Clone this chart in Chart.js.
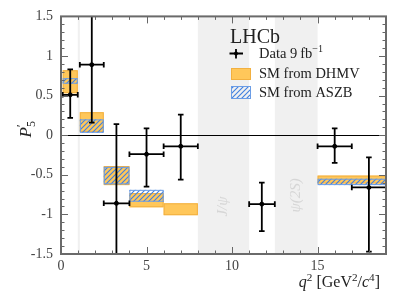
<!DOCTYPE html>
<html>
<head>
<meta charset="utf-8">
<script src="https://cdn.jsdelivr.net/npm/chart.js@4.4.0/dist/chart.umd.min.js"></script>
<style>
  html, body { margin: 0; padding: 0; background: #fff; }
</style>
</head>
<body>
<canvas id="c" width="407" height="305"></canvas>
<script>
// measured P5' per q2 bin (9 fb-1)
const binLo = [0.1, 1.1, 2.5, 4.0, 6.0, 11.0, 15.0, 17.0]
const binHi = [0.98, 2.5, 4.0, 6.0, 8.0, 12.5, 17.0, 19.0]
const dataX = [0.54, 1.8, 3.24, 5.0, 7.0, 11.74, 16.0, 18.0]
const dataY = [0.51, 0.89, -0.86, -0.24, -0.14, -0.87, -0.14, -0.66]
const dataHi = [0.83, 1.65, 0.14, 0.085, 0.26, -0.60, 0.085, -0.28]
const dataLo = [0.22, 0.16, -1.65, -0.65, -0.56, -1.21, -0.35, -1.47]

// SM predictions, DHMV
const dhmvLo = [0.1, 1.1, 2.5, 4.0, 6.0, 15.0]
const dhmvHi = [0.98, 2.5, 4.0, 6.0, 8.0, 19.0]
const dhmvMin = [0.53, 0.04, -0.63, -0.91, -1.01, -0.61]
const dhmvMax = [0.82, 0.29, -0.39, -0.73, -0.86, -0.51]

// SM predictions, ASZB
const aszbLo = [0.1, 1.1, 2.5, 4.0, 15.0]
const aszbHi = [0.98, 2.5, 4.0, 6.0, 19.0]
const aszbMin = [0.65, 0.03, -0.62, -0.84, -0.63]
const aszbMax = [0.72, 0.20, -0.40, -0.69, -0.55]

// vetoed charmonium regions
const vetoLo = [0.98, 8.0, 12.5]
const vetoHi = [1.1, 11.0, 15.0]

const xTicks = [0, 5, 10, 15]
const yTicks = [-1.5, -1, -0.5, 0, 0.5, 1, 1.5]

const serif = '"Liberation Serif", "DejaVu Serif", serif'
const textCol = '#222'

// hatch for the ASZB boxes
function makeHatch() {
    const pc = document.createElement('canvas')
    pc.width = 5; pc.height = 5
    const g = pc.getContext('2d')
    g.strokeStyle = '#3f7fe0'
    g.lineWidth = 1.1
    g.beginPath()
    g.moveTo(-1, 6); g.lineTo(6, -1)
    g.moveTo(-2, 2); g.lineTo(2, -2)
    g.moveTo(3, 7); g.lineTo(7, 3)
    g.stroke()
    return g.createPattern(pc, 'repeat')
}

// draws text made of pieces: {t, i (italic), sup, sub, back (start over previous piece)}
function richWidth(ctx, parts, size) {
    let w = 0
    parts.forEach(p => {
        const s = (p.sup || p.sub) ? size * 0.7 : size
        ctx.font = (p.i ? 'italic ' : '') + s + 'px ' + serif
        if (!p.back) w += ctx.measureText(p.t).width
    })
    return w
}
function drawRich(ctx, parts, x, y, size) {
    let cx = x, last = x
    parts.forEach(p => {
        const s = (p.sup || p.sub) ? size * 0.7 : size
        ctx.font = (p.i ? 'italic ' : '') + s + 'px ' + serif
        let dy = 0
        if (p.sup) dy = -size * 0.38
        if (p.sub) dy = size * 0.25
        const sx = p.back ? last : cx
        ctx.fillText(p.t, sx, y + dy)
        if (!p.back) { last = cx; cx += ctx.measureText(p.t).width }
    })
}

let hatch = null

const p5plugin = {
    id: 'p5plugin',
    beforeDatasetsDraw(chart) {
        const { ctx, chartArea: a, scales: { x, y } } = chart
        if (!hatch) hatch = makeHatch()
        ctx.save()
        ctx.beginPath()
        ctx.rect(a.left, a.top, a.right - a.left, a.bottom - a.top)
        ctx.clip()

        // veto bands
        ctx.fillStyle = '#f0f0f0'
        vetoLo.forEach((lo, i) => {
            const x0 = x.getPixelForValue(lo), x1 = x.getPixelForValue(vetoHi[i])
            ctx.fillRect(x0, a.top, x1 - x0, a.bottom - a.top)
        })
        ctx.fillStyle = '#d6d6d6'
        ctx.font = 'italic 15px ' + serif
        ctx.textAlign = 'center'
        ctx.textBaseline = 'middle'
        ;[['J/\u03C8', 9.5, -0.9], ['\u03C8(2S)', 13.75, -0.76]].forEach(l => {
            ctx.save()
            ctx.translate(x.getPixelForValue(l[1]), y.getPixelForValue(l[2]))
            ctx.rotate(-Math.PI / 2)
            ctx.fillText(l[0], 0, 0)
            ctx.restore()
        })

        // DHMV boxes
        ctx.fillStyle = '#ffc75a'
        ctx.strokeStyle = '#f2b040'
        ctx.lineWidth = 1
        dhmvLo.forEach((lo, i) => {
            const x0 = x.getPixelForValue(lo), x1 = x.getPixelForValue(dhmvHi[i])
            const y0 = y.getPixelForValue(dhmvMax[i]), y1 = y.getPixelForValue(dhmvMin[i])
            ctx.fillRect(x0, y0, x1 - x0, y1 - y0)
            ctx.strokeRect(x0 + 0.5, y0 + 0.5, x1 - x0 - 1, y1 - y0 - 1)
        })
        // ASZB boxes
        ctx.fillStyle = hatch
        ctx.strokeStyle = '#6b9de6'
        aszbLo.forEach((lo, i) => {
            const x0 = x.getPixelForValue(lo), x1 = x.getPixelForValue(aszbHi[i])
            const y0 = y.getPixelForValue(aszbMax[i]), y1 = y.getPixelForValue(aszbMin[i])
            ctx.fillRect(x0, y0, x1 - x0, y1 - y0)
            ctx.strokeRect(x0 + 0.5, y0 + 0.5, x1 - x0 - 1, y1 - y0 - 1)
        })

        // zero line
        const y0 = Math.round(y.getPixelForValue(0)) + 0.5
        ctx.strokeStyle = '#000'
        ctx.lineWidth = 1
        ctx.beginPath()
        ctx.moveTo(a.left, y0); ctx.lineTo(a.right, y0)
        ctx.stroke()

        // error bars
        ctx.strokeStyle = '#000'
        ctx.lineWidth = 1.8
        const cap = 2.8
        dataX.forEach((v, i) => {
            const px = x.getPixelForValue(v), py = y.getPixelForValue(dataY[i])
            const xl = x.getPixelForValue(binLo[i]), xr = x.getPixelForValue(binHi[i])
            const yt = y.getPixelForValue(dataHi[i]), yb = y.getPixelForValue(dataLo[i])
            ctx.beginPath()
            ctx.moveTo(xl, py); ctx.lineTo(xr, py)
            ctx.moveTo(px, yt); ctx.lineTo(px, yb)
            ctx.moveTo(xl, py - cap); ctx.lineTo(xl, py + cap)
            ctx.moveTo(xr, py - cap); ctx.lineTo(xr, py + cap)
            ctx.moveTo(px - cap, yt); ctx.lineTo(px + cap, yt)
            ctx.moveTo(px - cap, yb); ctx.lineTo(px + cap, yb)
            ctx.stroke()
        })
        ctx.restore()
    },
    afterDraw(chart) {
        const { ctx, chartArea: a, scales: { x, y } } = chart
        ctx.save()
        // ticks, pointing inwards on all four sides
        ctx.strokeStyle = '#666'
        ctx.lineWidth = 1
        ctx.beginPath()
        for (let k = -15; k <= 15; k++) {
            const py = Math.round(y.getPixelForValue(k / 10)) + 0.5
            const len = (k % 5 === 0) ? 7 : 3.5
            ctx.moveTo(a.left, py); ctx.lineTo(a.left + len, py)
            ctx.moveTo(a.right, py); ctx.lineTo(a.right - len, py)
        }
        for (let k = 0; k <= 19; k++) {
            const px = Math.round(x.getPixelForValue(k)) + 0.5
            const len = (k % 5 === 0) ? 7 : 3.5
            ctx.moveTo(px, a.bottom); ctx.lineTo(px, a.bottom - len)
            ctx.moveTo(px, a.top); ctx.lineTo(px, a.top + len)
        }
        ctx.stroke()
        // frame
        ctx.strokeStyle = '#6a6a6a'
        ctx.lineWidth = 2
        ctx.strokeRect(a.left, a.top, a.right - a.left, a.bottom - a.top)

        // axis titles
        ctx.fillStyle = textCol
        ctx.textAlign = 'left'
        ctx.textBaseline = 'alphabetic'
        const xt = [{ t: 'q', i: true }, { t: '2', sup: true }, { t: ' [GeV' }, { t: '2', sup: true },
            { t: '/' }, { t: 'c', i: true }, { t: '4', sup: true }, { t: ']' }]
        const xw = richWidth(ctx, xt, 16)
        drawRich(ctx, xt, a.right - 6 - xw, 287, 16)

        const yt = [{ t: 'P', i: true }, { t: '\u2032', sup: true }, { t: '5', sub: true, back: true }]
        ctx.save()
        ctx.translate(31, 131)
        ctx.rotate(-Math.PI / 2)
        const yw = richWidth(ctx, yt, 17)
        drawRich(ctx, yt, -yw / 2, 0, 17)
        ctx.restore()

        // legend
        ctx.fillStyle = textCol
        ctx.font = '20px ' + serif
        ctx.fillText('LHCb', 230, 43)

        ctx.strokeStyle = '#000'
        ctx.lineWidth = 1.8
        ctx.beginPath()
        ctx.moveTo(229.5, 53.5); ctx.lineTo(243, 53.5)
        ctx.moveTo(236, 49); ctx.lineTo(236, 58.5)
        ctx.stroke()
        ctx.beginPath()
        ctx.arc(236, 53.5, 2, 0, Math.PI * 2)
        ctx.fillStyle = '#000'
        ctx.fill()

        ctx.fillStyle = '#ffc75a'
        ctx.fillRect(231, 68, 20, 12)
        ctx.strokeStyle = '#f2b040'
        ctx.lineWidth = 1
        ctx.strokeRect(231.5, 68.5, 19, 11)

        ctx.fillStyle = hatch
        ctx.fillRect(231, 86, 20, 12.5)
        ctx.strokeStyle = '#6b9de6'
        ctx.strokeRect(231.5, 86.5, 19, 12)

        ctx.fillStyle = textCol
        drawRich(ctx, [{ t: 'Data 9\u2009fb' }, { t: '\u22121', sup: true }], 259, 58, 14.5)
        ctx.font = '14.5px ' + serif
        ctx.fillText('SM from DHMV', 259, 78)
        ctx.fillText('SM from ASZB', 259, 97)
        ctx.restore()
    }
}

new Chart(document.getElementById('c'), {
    type: 'scatter',
    data: {
        datasets: [{
            label: 'Data 9 fb-1',
            data: dataX.map((v, i) => ({ x: v, y: dataY[i] })),
            backgroundColor: '#000',
            borderColor: '#000',
            pointRadius: 2,
            pointHoverRadius: 2
        }]
    },
    options: {
        responsive: false,
        animation: false,
        events: [],
        layout: { padding: { top: 15, right: 21, left: 0, bottom: 0 } },
        plugins: { legend: { display: false }, tooltip: { enabled: false } },
        scales: {
            x: {
                type: 'linear',
                min: 0,
                max: 19,
                grid: { display: false, drawTicks: false },
                border: { display: false },
                afterBuildTicks: s => { s.ticks = xTicks.map(v => ({ value: v })) },
                afterFit: s => { s.height = 51 },
                ticks: { color: '#444', padding: 4, font: { family: serif, size: 14 }, maxRotation: 0 }
            },
            y: {
                min: -1.5,
                max: 1.5,
                grid: { display: false, drawTicks: false },
                border: { display: false },
                afterBuildTicks: s => { s.ticks = yTicks.map(v => ({ value: v })) },
                afterFit: s => { s.width = 61 },
                ticks: { color: '#444', padding: 8, font: { family: serif, size: 14 },
                    callback: v => String(v) }
            }
        }
    },
    plugins: [p5plugin]
})
</script>
</body>
</html>
